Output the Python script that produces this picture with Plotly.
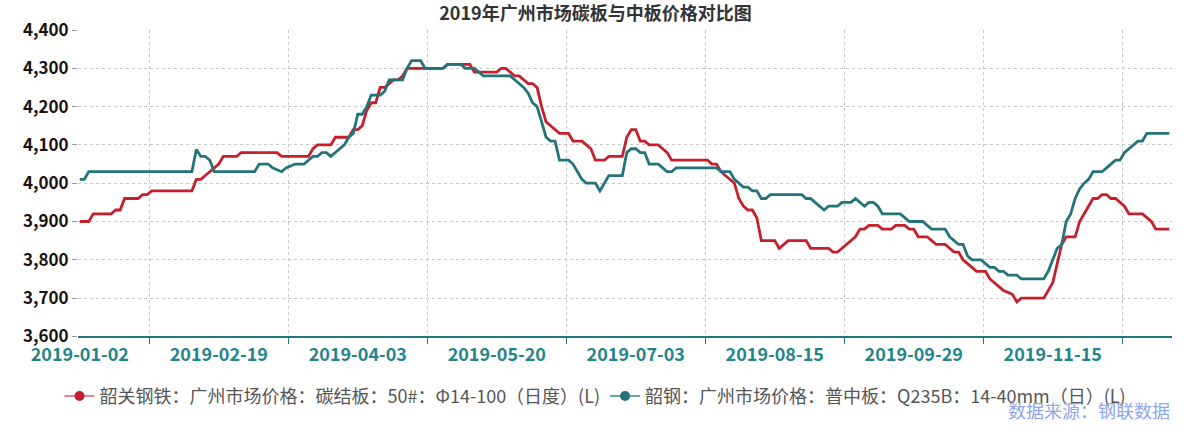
import pandas as pd
import plotly.graph_objects as go

# working days of the 2019 Chinese calendar (weekends + holidays removed, make-up days added)
holidays = ['2019-01-01', '2019-02-04', '2019-02-05', '2019-02-06', '2019-02-07', '2019-02-08',
            '2019-04-05', '2019-05-01', '2019-05-02', '2019-05-03', '2019-06-07', '2019-09-13',
            '2019-10-01', '2019-10-02', '2019-10-03', '2019-10-04', '2019-10-07']
extra_workdays = ['2019-02-02', '2019-02-03', '2019-04-28', '2019-05-05', '2019-09-29', '2019-10-12']

tick_labels = ['2019-01-02', '2019-02-19', '2019-04-03', '2019-05-20',
               '2019-07-03', '2019-08-15', '2019-09-29', '2019-11-15']

# 韶关钢铁 碳结板 50# Φ14-100
carbon_plate = [
    3900, 3900, 3900, 3920, 3920, 3920, 3920, 3920, 3930, 3930,
    3960, 3960, 3960, 3960, 3970, 3970, 3980, 3980, 3980, 3980,
    3980, 3980, 3980, 3980, 3980, 3980, 4010, 4010, 4020, 4030,
    4040, 4050, 4070, 4070, 4070, 4070, 4080, 4080, 4080, 4080,
    4080, 4080, 4080, 4080, 4080, 4070, 4070, 4070, 4070, 4070,
    4070, 4070, 4090, 4100, 4100, 4100, 4100, 4120, 4120, 4120,
    4120, 4140, 4140, 4150, 4190, 4210, 4210, 4250, 4250, 4260,
    4270, 4270, 4280, 4300, 4300, 4300, 4300, 4300, 4300, 4300,
    4300, 4300, 4310, 4310, 4310, 4310, 4310, 4310, 4290, 4290,
    4290, 4290, 4290, 4290, 4300, 4300, 4290, 4280, 4280, 4270,
    4260, 4260, 4250, 4200, 4160, 4150, 4140, 4130, 4130, 4130,
    4110, 4110, 4110, 4100, 4090, 4060, 4060, 4060, 4070, 4070,
    4070, 4070, 4120, 4140, 4140, 4110, 4110, 4100, 4100, 4100,
    4090, 4080, 4060, 4060, 4060, 4060, 4060, 4060, 4060, 4060,
    4060, 4050, 4050, 4030, 4020, 4010, 4000, 3960, 3940, 3930,
    3930, 3910, 3850, 3850, 3850, 3850, 3830, 3840, 3850, 3850,
    3850, 3850, 3850, 3830, 3830, 3830, 3830, 3830, 3820, 3820,
    3830, 3840, 3850, 3860, 3880, 3880, 3890, 3890, 3890, 3880,
    3880, 3880, 3890, 3890, 3890, 3880, 3880, 3860, 3860, 3860,
    3850, 3840, 3840, 3840, 3830, 3820, 3820, 3800, 3790, 3780,
    3770, 3770, 3770, 3750, 3740, 3730, 3720, 3715, 3710, 3690,
    3700, 3700, 3700, 3700, 3700, 3700, 3720, 3740, 3790, 3840,
    3860, 3860, 3860, 3900, 3920, 3940, 3960, 3960, 3970, 3970,
    3960, 3960, 3950, 3940, 3920, 3920, 3920, 3920, 3910, 3900,
    3880, 3880, 3880, 3880,
]

# 韶钢 普中板 Q235B 14-40mm
medium_plate = [
    4010, 4010, 4030, 4030, 4030, 4030, 4030, 4030, 4030, 4030,
    4030, 4030, 4030, 4030, 4030, 4030, 4030, 4030, 4030, 4030,
    4030, 4030, 4030, 4030, 4030, 4030, 4088, 4070, 4070, 4060,
    4030, 4030, 4030, 4030, 4030, 4030, 4030, 4030, 4030, 4030,
    4050, 4050, 4050, 4040, 4035, 4030, 4040, 4045, 4050, 4050,
    4050, 4060, 4070, 4070, 4080, 4080, 4070, 4080, 4090, 4100,
    4120, 4130, 4180, 4180, 4200, 4230, 4230, 4230, 4240, 4270,
    4270, 4270, 4270, 4300, 4320, 4320, 4320, 4300, 4300, 4300,
    4300, 4300, 4310, 4310, 4310, 4310, 4300, 4300, 4300, 4290,
    4280, 4280, 4280, 4280, 4280, 4280, 4280, 4270, 4260, 4250,
    4235, 4210, 4200, 4160, 4120, 4110, 4110, 4060, 4060, 4060,
    4050, 4030, 4010, 4000, 4000, 4000, 3980, 4000, 4020, 4020,
    4020, 4020, 4080, 4090, 4090, 4080, 4080, 4050, 4050, 4050,
    4040, 4030, 4030, 4040, 4040, 4040, 4040, 4040, 4040, 4040,
    4040, 4040, 4040, 4030, 4030, 4030, 4010, 4000, 3990, 3990,
    3980, 3980, 3960, 3960, 3970, 3970, 3970, 3970, 3970, 3970,
    3970, 3970, 3960, 3960, 3950, 3940, 3930, 3940, 3940, 3940,
    3950, 3950, 3950, 3960, 3950, 3940, 3950, 3950, 3940, 3920,
    3920, 3920, 3920, 3920, 3910, 3900, 3900, 3900, 3900, 3890,
    3880, 3880, 3880, 3880, 3860, 3850, 3840, 3840, 3810, 3800,
    3800, 3800, 3790, 3780, 3780, 3770, 3770, 3760, 3760, 3760,
    3750, 3750, 3750, 3750, 3750, 3750, 3770, 3800, 3830, 3840,
    3900, 3920, 3960, 3985, 4000, 4010, 4030, 4030, 4030, 4040,
    4050, 4060, 4060, 4080, 4090, 4100, 4110, 4110, 4130, 4130,
    4130, 4130, 4130, 4130,
]

name_carbon = '韶关钢铁：广州市场价格：碳结板：50#：Φ14-100（日度）(L)'
name_medium = '韶钢：广州市场价格：普中板：Q235B：14-40mm（日）(L)'

red = '#c41f2b'
teal = '#23737b'
font_cn = 'Noto Sans CJK SC'

days = pd.bdate_range('2019-01-02', '2019-12-31', freq='C', holidays=holidays)
days = days.union(pd.to_datetime(extra_workdays)).sort_values()
dates = [d.strftime('%Y-%m-%d') for d in days][:len(carbon_plate)]
idx = list(range(len(dates)))

tick_pos = [dates.index(t) for t in tick_labels]
grid_pos = [p + (tick_pos[1] - tick_pos[0]) / 2 for p in tick_pos]

fig = go.Figure()
fig.add_trace(go.Scatter(x=idx, y=carbon_plate, customdata=dates, mode='lines',
                         line=dict(color=red, width=2.8), showlegend=False, name=name_carbon,
                         hovertemplate='%{customdata}: %{y}<extra></extra>'))
fig.add_trace(go.Scatter(x=idx, y=medium_plate, customdata=dates, mode='lines',
                         line=dict(color=teal, width=2.8), showlegend=False, name=name_medium,
                         hovertemplate='%{customdata}: %{y}<extra></extra>'))
# legend entries (line with dot)
fig.add_trace(go.Scatter(x=[None], y=[None], mode='lines+markers', name=name_carbon,
                         line=dict(color='#e08890', width=2), marker=dict(color=red, size=10)))
fig.add_trace(go.Scatter(x=[None], y=[None], mode='lines+markers', name=name_medium,
                         line=dict(color='#6fa3a8', width=2), marker=dict(color=teal, size=10)))

fig.update_layout(
    width=1191, height=434,
    margin=dict(l=78, r=19, t=30, b=96),
    paper_bgcolor='white', plot_bgcolor='white',
    font=dict(family=font_cn, size=14, color='#333'),
    title=dict(text='2019年广州市场碳板与中板价格对比图', x=0.5, xref='container', xanchor='center',
               y=0.968, yanchor='middle', font=dict(size=18, weight='bold', color='#333')),
    legend=dict(orientation='h', xref='container', yref='container', x=0.5, xanchor='center',
                y=0.087, yanchor='middle', font=dict(size=18, color='#555'),
                itemwidth=30, tracegroupgap=0),
    xaxis=dict(range=[-0.4, 243.6], tickmode='array', tickvals=tick_pos, ticktext=tick_labels,
               ticks='', showgrid=False, zeroline=False, ticklabelstandoff=1,
               showline=True, linecolor='#237880', linewidth=1.5,
               tickfont=dict(size=18, weight='bold', color='#1f858b'),
               minor=dict(tickmode='array', tickvals=grid_pos, ticks='outside', ticklen=6,
                          tickcolor='#237880', tickwidth=1, showgrid=True,
                          gridcolor='#c8c8c8', griddash='dot', gridwidth=1)),
    yaxis=dict(range=[3600, 4400], tickmode='linear', tick0=3600, dtick=100, tickformat=',',
               ticks='outside', ticklen=5, tickcolor='#999', showgrid=True,
               gridcolor='#c8c8c8', griddash='dot', zeroline=False, showline=False,
               tickfont=dict(size=17, weight='bold', color='#1a1212')),
    annotations=[dict(text='数据来源：钢联数据', xref='paper', yref='paper', x=1.0, y=-0.24,
                      xanchor='right', yanchor='middle', showarrow=False,
                      font=dict(size=18, color='#8ea6ea'))],
)

# page body has a default 8px margin; remove it so the figure sits at the window corner
fig.write_html('out.html', config={'displayModeBar': False},
               post_script="document.body.style.margin='0';")
